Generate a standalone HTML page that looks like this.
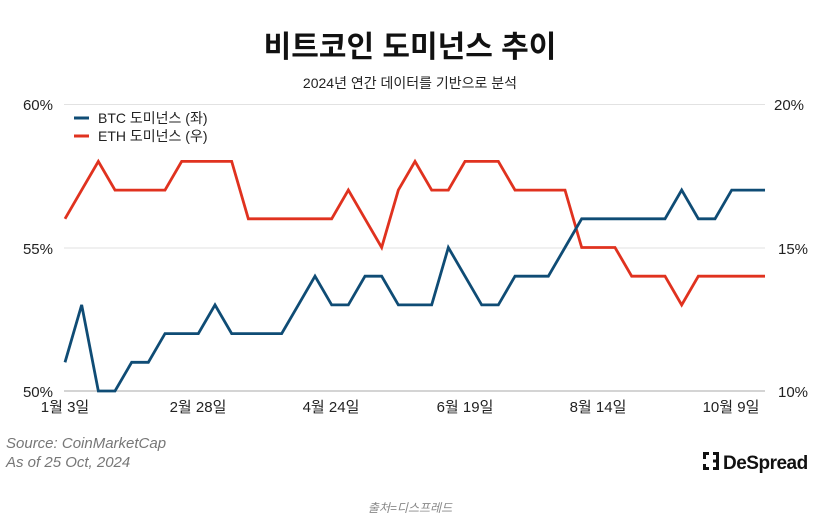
<!DOCTYPE html>
<html><head><meta charset="utf-8"><style>
html,body{margin:0;padding:0;background:#fff;}
body{width:821px;height:519px;position:relative;overflow:hidden;font-family:"Liberation Sans","Noto Sans CJK KR",sans-serif;}
</style></head><body>
<svg width="821" height="519" viewBox="0 0 821 519" xmlns="http://www.w3.org/2000/svg" style="position:absolute;left:0;top:0">
<g font-family="Liberation Sans, Noto Sans CJK KR, sans-serif">
<text x="410" y="57" text-anchor="middle" font-size="30" font-weight="bold" fill="#111">비트코인 도미넌스 추이</text>
<text x="410" y="88" text-anchor="middle" font-size="14" fill="#222">2024년 연간 데이터를 기반으로 분석</text>
<line x1="64" y1="104.5" x2="765" y2="104.5" stroke="#e2e2e2" stroke-width="1"/>
<line x1="64" y1="248" x2="765" y2="248" stroke="#e2e2e2" stroke-width="1"/>
<line x1="64" y1="391" x2="765" y2="391" stroke="#bbb" stroke-width="1.3"/>
<g font-size="15" fill="#222">
<text x="53" y="110" text-anchor="end">60%</text>
<text x="53" y="254" text-anchor="end">55%</text>
<text x="53" y="397" text-anchor="end">50%</text>
<text x="774" y="110">20%</text>
<text x="778" y="254">15%</text>
<text x="778" y="397">10%</text>
<text x="65" y="412" text-anchor="middle">1월 3일</text>
<text x="198" y="412" text-anchor="middle">2월 28일</text>
<text x="331" y="412" text-anchor="middle">4월 24일</text>
<text x="465" y="412" text-anchor="middle">6월 19일</text>
<text x="598" y="412" text-anchor="middle">8월 14일</text>
<text x="731" y="412" text-anchor="middle">10월 9일</text>
</g>
<line x1="74" y1="118" x2="89" y2="118" stroke="#0f4c75" stroke-width="3"/>
<line x1="74" y1="136" x2="89" y2="136" stroke="#e0321f" stroke-width="3"/>
<text x="98" y="123" font-size="14" fill="#222">BTC 도미넌스 (좌)</text>
<text x="98" y="141" font-size="14" fill="#222">ETH 도미넌스 (우)</text>
<polyline transform="translate(65,678) scale(16.667,-28.7)" vector-effect="non-scaling-stroke" fill="none" stroke="#e0321f" stroke-width="2.8" stroke-linejoin="miter"
points="0,16 1,17 2,18 3,17 4,17 5,17 6,17 7,18 8,18 9,18 10,18 11,16 12,16 13,16 14,16 15,16 16,16 17,17 18,16 19,15 20,17 21,18 22,17 23,17 24,18 25,18 26,18 27,17 28,17 29,17 30,17 31,15 32,15 33,15 34,14 35,14 36,14 37,13 38,14 39,14 40,14 41,14 42,14"/>
<polyline transform="translate(65,1826) scale(16.667,-28.7)" vector-effect="non-scaling-stroke" fill="none" stroke="#0f4c75" stroke-width="2.8" stroke-linejoin="miter"
points="0,51 1,53 2,50 3,50 4,51 5,51 6,52 7,52 8,52 9,53 10,52 11,52 12,52 13,52 14,53 15,54 16,53 17,53 18,54 19,54 20,53 21,53 22,53 23,55 24,54 25,53 26,53 27,54 28,54 29,54 30,55 31,56 32,56 33,56 34,56 35,56 36,56 37,57 38,56 39,56 40,57 41,57 42,57"/>
<g font-size="15" font-style="italic" fill="#777">
<text x="6" y="448">Source: CoinMarketCap</text>
<text x="6" y="467">As of 25 Oct, 2024</text>
</g>
<g fill="#111">
<rect x="703" y="452" width="6" height="3"/><rect x="703" y="452" width="3" height="7"/>
<rect x="703" y="464" width="3" height="6"/><rect x="703" y="467" width="6" height="3"/>
<rect x="713" y="452" width="6" height="3"/><rect x="716" y="452" width="3" height="18"/>
<rect x="713" y="459.5" width="6" height="3"/><rect x="713" y="467" width="6" height="3"/>
<text x="723" y="469" font-size="19" font-weight="bold" letter-spacing="-0.5">DeSpread</text>
</g>
<text x="410" y="512" text-anchor="middle" font-size="12" font-style="italic" fill="#888">출처=디스프레드</text>
</g>
</svg>
</body></html>
